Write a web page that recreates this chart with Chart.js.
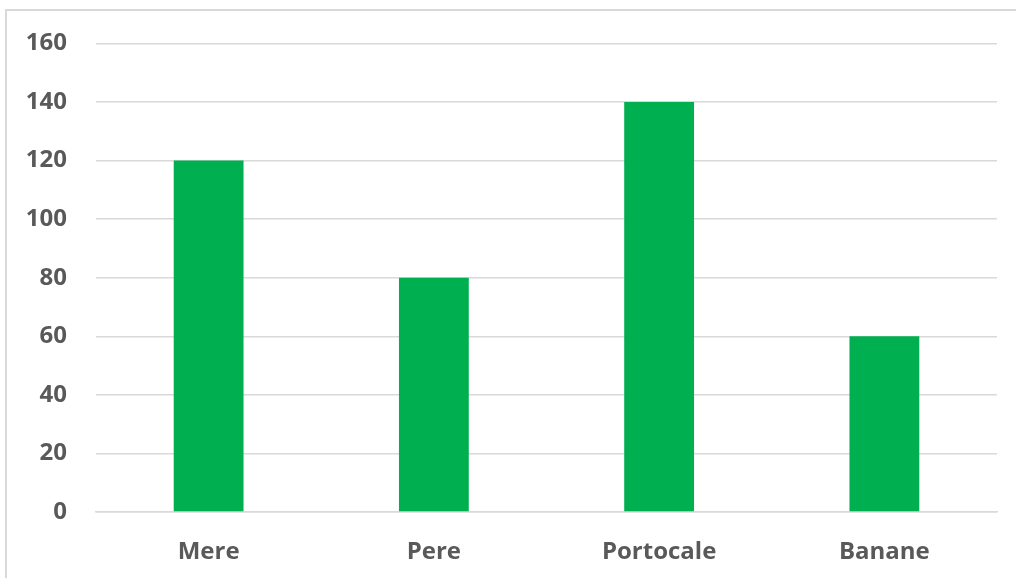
<!DOCTYPE html>
<html>
<head>
<meta charset="utf-8">
<script src="https://cdn.jsdelivr.net/npm/chart.js"></script>
<style>
  html, body { margin: 0; padding: 0; background: #fff; overflow: hidden; }
  #frame { position: absolute; left: 5px; top: 9px; width: 1100px; height: 700px; border: 2px solid #d9d9d9; }
  #wrap { position: absolute; left: 0; top: 0; width: 1016px; height: 578px; }
</style>
</head>
<body>
<div id="frame"></div>
<div id="wrap"><canvas id="bar_Fructe"></canvas></div>
<script>
const categories = ["Mere", "Pere", "Portocale", "Banane"];
const values = [120, 80, 140, 60];
const yTicks = [0, 20, 40, 60, 80, 100, 120, 140, 160];

const config_Fructe = {
    type: "bar",
    data: {
        labels: categories,
        datasets: [
            {
                label: "Fructe",
                data: values,
                backgroundColor: "#00b050",
                barPercentage: 0.31,
                categoryPercentage: 1
            }
        ]
    },
    options: {
        responsive: true,
        maintainAspectRatio: false,
        animation: false,
        layout: { padding: { left: 0, right: 19, top: 42, bottom: 0 } },
        plugins: {
            legend: { display: false },
            tooltip: { enabled: false }
        },
        scales: {
            x: {
                grid: { display: false, drawTicks: false },
                border: { color: "#d9d9d9", width: 1.5 },
                ticks: {
                    color: "#595959",
                    padding: 26,
                    font: { family: "Open Sans", size: 24, weight: "bold" }
                },
                afterFit: function (scale) { scale.height = 66; }
            },
            y: {
                min: yTicks[0],
                max: yTicks[yTicks.length - 1],
                grid: { color: "#d9d9d9", lineWidth: 1.5, drawTicks: false },
                border: { display: false },
                afterBuildTicks: function (scale) {
                    scale.ticks = yTicks.map(v => ({ value: v }));
                },
                ticks: {
                    color: "#595959",
                    padding: 29,
                    font: { family: "Open Sans", size: 24, weight: "bold" }
                },
                afterFit: function (scale) { scale.width = 96; }
            }
        }
    }
};

const ctx_Fructe = document.getElementById("bar_Fructe").getContext("2d");
const myChart_Fructe = new Chart(ctx_Fructe, config_Fructe);
</script>
</body>
</html>
